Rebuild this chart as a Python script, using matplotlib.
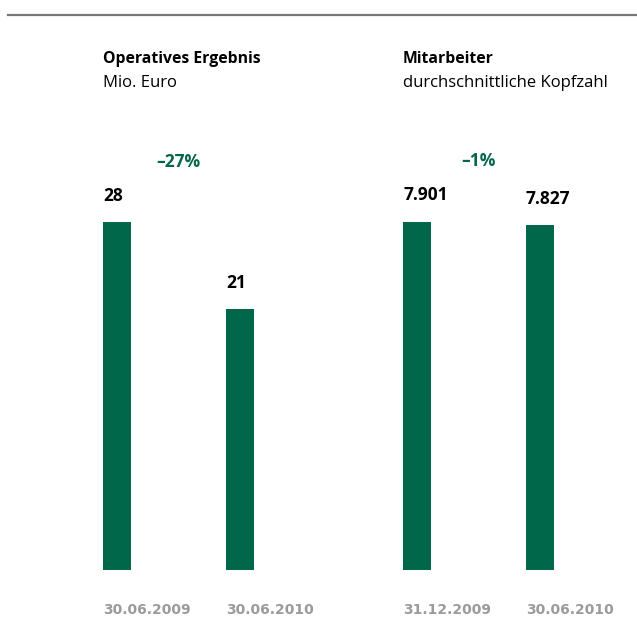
import matplotlib
matplotlib.use('Agg')
import matplotlib.pyplot as plt
from matplotlib.lines import Line2D

plt.rcParams['font.family']=['Open Sans','DejaVu Sans']

# data
left_title='Operatives Ergebnis'
left_unit='Mio. Euro'
left_dates=['30.06.2009','30.06.2010']
left_values=[28,21]
left_labels=['28','21']
left_change='–27%'

right_title='Mitarbeiter'
right_unit='durchschnittliche Kopfzahl'
right_dates=['31.12.2009','30.06.2010']
right_values=[7901,7827]
right_labels=['7.901','7.827']
right_change='–1%'

green='#00674a'
grey='#9b9b9b'

W,H=637,626
fig=plt.figure(figsize=(W/100,H/100),dpi=100)
fig.add_artist(Line2D([8/W,1],[1-15/H,1-15/H],color='#777777',lw=1.6))

def px(x,y):
    return x/W,1-y/H

def panel(x0,title,unit,dates,values,labels,change):
    # bar centres 123 px apart, first bar top at y=222, baseline at y=570
    ax=fig.add_axes([(x0-61.5)/W,(H-570)/H,246/W,348/H])
    ax.set_xlim(-0.5,1.5)
    ax.set_ylim(0,values[0])
    bw=28/123
    xs=[0,1]
    ax.bar(xs,values,width=bw,color=green)
    ax.axis('off')
    for x,v,l,d in zip(xs,values,labels,dates):
        ax.annotate(l,(x-bw/2,v),xytext=(0,21.5),textcoords='offset pixels',
                    ha='left',va='baseline',fontsize=12.5,fontweight='bold',color='black',annotation_clip=False)
        ax.annotate(d,(x-bw/2,0),xytext=(0,-44.3),textcoords='offset pixels',
                    ha='left',va='baseline',fontsize=10,fontweight='bold',color=grey,
                    family='DejaVu Sans',annotation_clip=False)
    ax.annotate(change,(0.5,values[0]),xytext=(0,55.5),textcoords='offset pixels',
                ha='center',va='baseline',fontsize=12.5,fontweight='bold',color=green,annotation_clip=False)
    fig.text(*px(x0-14,63),title,ha='left',va='baseline',fontsize=11.3,fontweight='bold',color='black')
    fig.text(*px(x0-14,87),unit,ha='left',va='baseline',fontsize=12,color='black')

panel(117,left_title,left_unit,left_dates,left_values,left_labels,left_change)
panel(417,right_title,right_unit,right_dates,right_values,right_labels,right_change)

fig.savefig('out.png',dpi=100,facecolor='white')
